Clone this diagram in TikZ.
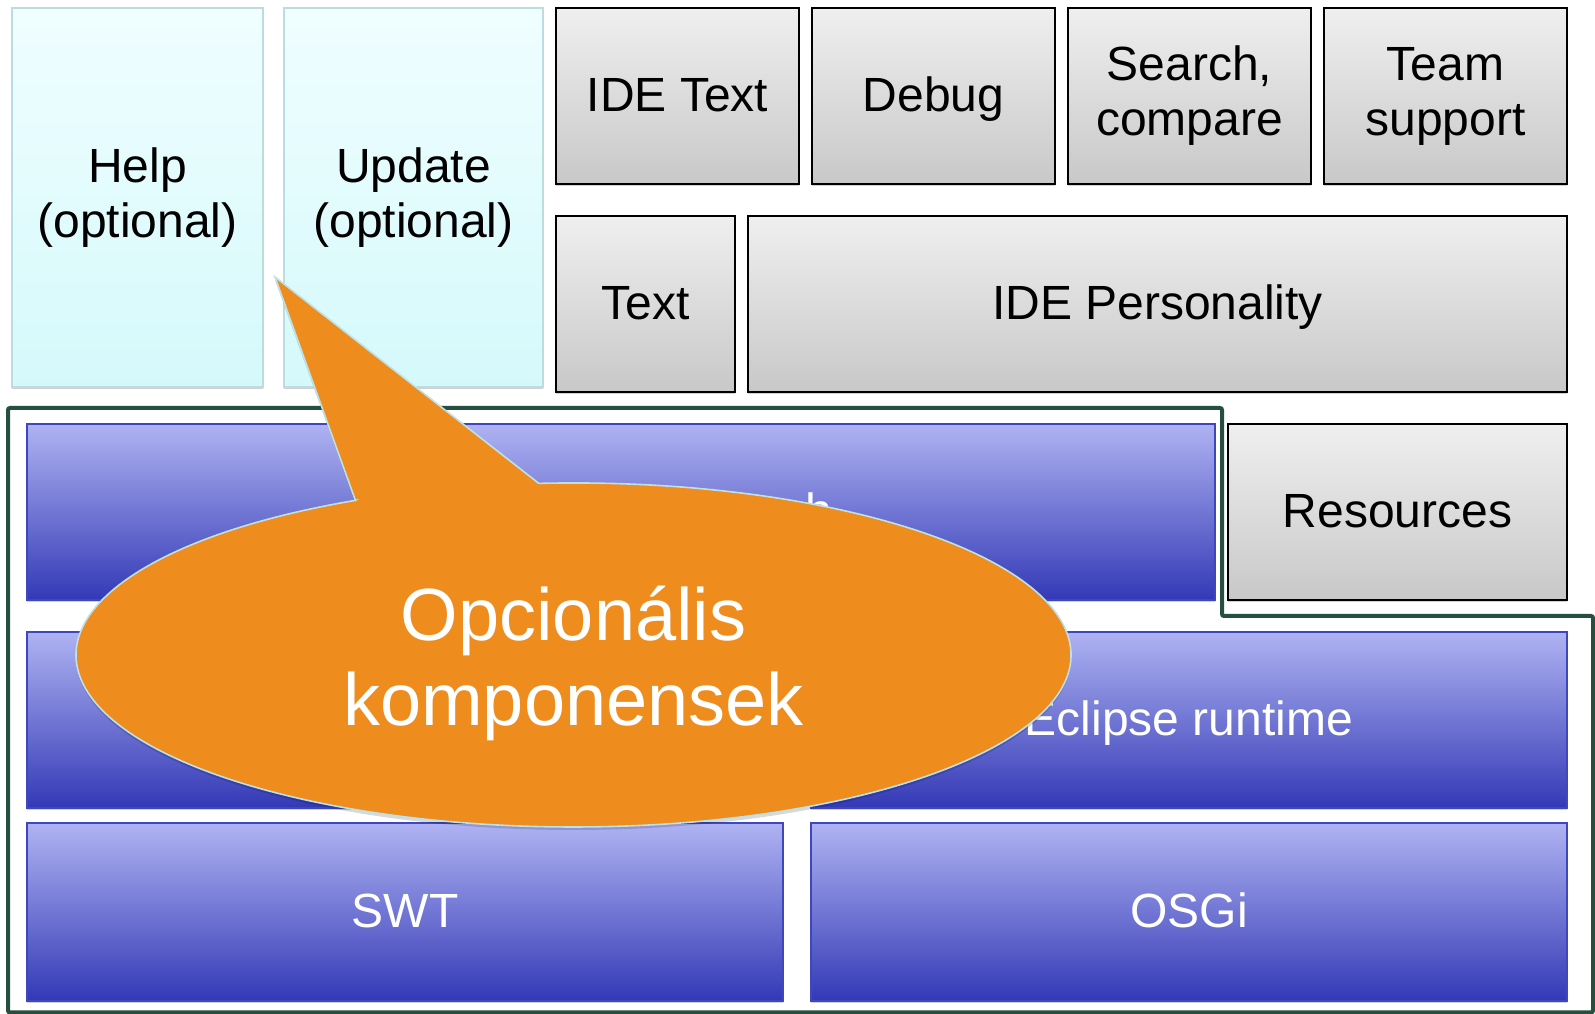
\documentclass[tikz,border=0pt]{standalone}
\usepackage{fontspec}
\setmainfont{Liberation Sans}
\usetikzlibrary{shadows}
\definecolor{cyantop}{HTML}{F0FEFF}
\definecolor{cyanbot}{HTML}{D5F9FB}
\definecolor{cyanline}{HTML}{BBDDE2}
\definecolor{graytop}{HTML}{EFEFEF}
\definecolor{graybot}{HTML}{C8C8C8}
\definecolor{bluetop}{HTML}{AFB3F2}
\definecolor{bluebot}{HTML}{3339B6}
\definecolor{blueline}{HTML}{3F47BF}
\definecolor{framegreen}{HTML}{25503F}
\definecolor{calloutorange}{HTML}{EE8C1E}
\definecolor{calloutline}{HTML}{BCE2E8}
\begin{document}
\begin{tikzpicture}[x=1pt,y=1pt,
  box/.style={anchor=north west, inner sep=0pt, outer sep=0pt, align=center,
    font=\fontsize{48}{55}\selectfont,
    drop shadow={shadow xshift=0pt, shadow yshift=-2.5pt, opacity=0.18, fill=black}},
  oneline/.style={text height=35pt, text depth=3pt},
  optbox/.style={box, draw=cyanline, line width=1.5pt, top color=cyantop, bottom color=cyanbot, text=black},
  graybox/.style={box, draw=black, line width=2pt, top color=graytop, bottom color=graybot, text=black},
  bluebox/.style={box, draw=blueline, line width=1.5pt, top color=bluetop, bottom color=bluebot, text=white},
  frameline/.style={draw=framegreen, line width=4pt, rounded corners=2pt},
  calloutshape/.style={fill=calloutorange, draw=calloutline, line width=1.6pt, line join=miter,
    drop shadow={shadow xshift=0pt, shadow yshift=-3pt, opacity=0.15, fill=black}},
  callouttext/.style={align=center, text=white, font=\fontsize{74}{85}\selectfont, inner sep=0pt}
]
\useasboundingbox (0,0) rectangle (1595,1014);
\fill[white] (0,0) rectangle (1595,1014);

% optional components
\node[optbox, minimum width=251pt, minimum height=379pt] (help) at (12,1006) {Help\\(optional)};
\node[optbox, minimum width=259pt, minimum height=379pt] (update) at (284,1006) {Update\\(optional)};

% IDE row 1
\node[graybox, oneline, minimum width=243pt, minimum height=176pt] (idetext) at (556,1006) {IDE Text};
\node[graybox, oneline, minimum width=243pt, minimum height=176pt] (debug) at (812,1006) {Debug};
\node[graybox, minimum width=243pt, minimum height=176pt] (search) at (1068,1006) {Search,\\compare};
\node[graybox, minimum width=243pt, minimum height=176pt] (team) at (1324,1006) {Team\\support};

% IDE row 2
\node[graybox, oneline, minimum width=179pt, minimum height=176pt] (text) at (556,798) {Text};
\node[graybox, oneline, minimum width=819pt, minimum height=176pt] (idepers) at (748,798) {IDE Personality};

% row 3
\node[bluebox, oneline, minimum width=1188pt, minimum height=176pt] (workbench) at (27,590) {Generic Workbench};
\node[graybox, oneline, minimum width=339pt, minimum height=176pt] (resources) at (1228,590) {Resources};

% row 4
\node[bluebox, oneline, minimum width=756pt, minimum height=176pt] (jface) at (27,382) {};
\node[bluebox, oneline, minimum width=756pt, minimum height=176pt] (runtime) at (811,382) {Eclipse runtime};

% row 5
\node[bluebox, oneline, minimum width=756pt, minimum height=178pt] (swt) at (27,191) {SWT};
\node[bluebox, oneline, minimum width=756pt, minimum height=178pt] (osgi) at (811,191) {OSGi};

% RCP frame
\draw[frameline] (8,1.5) -- (8,606) -- (1222,606) -- (1222,398) -- (1593,398) -- (1593,1.5) -- cycle;

% callout
\path[calloutshape] (355.4,513.6) -- (275,737) -- (538.8,530.6)
  arc[start angle=94, end angle=-244, x radius=497.5, y radius=172] -- cycle;
\node[callouttext] (callout) at (573.5,351) {Opcionális\\komponensek};
\end{tikzpicture}
\end{document}
